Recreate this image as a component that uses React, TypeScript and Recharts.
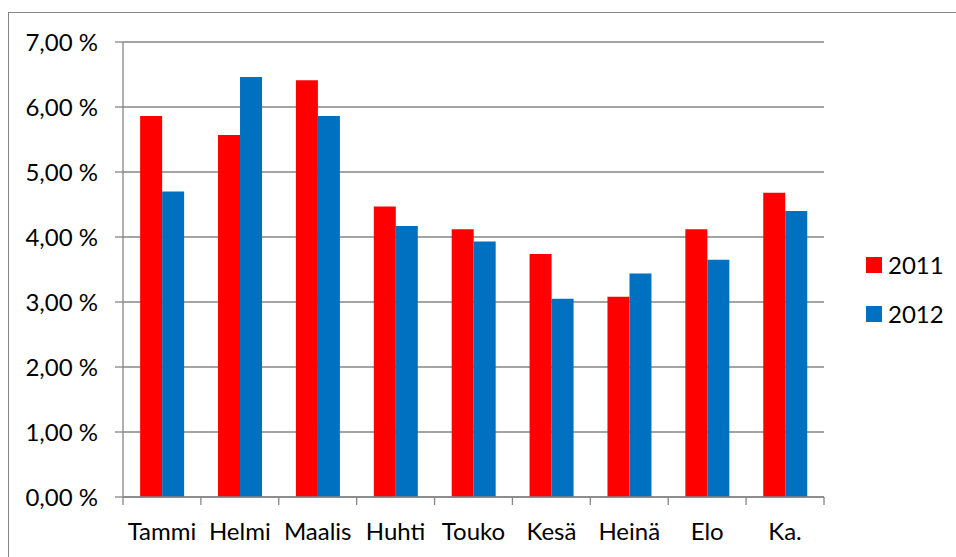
import React from "react"
import { BarChart, Bar, XAxis, YAxis, CartesianGrid } from "recharts"

const months = ["Tammi", "Helmi", "Maalis", "Huhti", "Touko", "Kesä", "Heinä", "Elo", "Ka."]
const values2011 = [5.86, 5.57, 6.41, 4.47, 4.12, 3.74, 3.08, 4.12, 4.68]
const values2012 = [4.7, 6.46, 5.86, 4.17, 3.93, 3.05, 3.44, 3.65, 4.4]
const yTicks = [0, 1, 2, 3, 4, 5, 6, 7]

const series = [
  { key: "2011", color: "#ff0000" },
  { key: "2012", color: "#0070c0" },
]

const data = months.map((m, i) => ({ name: m, "2011": values2011[i], "2012": values2012[i] }))

const FONT = "Lato, 'Open Sans', sans-serif"
const FS = 24
const GRID = "#868686"
const PLOT_LEFT = 123
const PLOT_RIGHT = 824
const band = (PLOT_RIGHT - PLOT_LEFT) / months.length

const fmt = (v: number) => `${v.toFixed(2).replace(".", ",")} %`

function MonthTick(props: any) {
  const { x, y, payload, index } = props
  const isLast = index === months.length - 1
  return (
    <g>
      <line x1={x - band / 2} x2={x - band / 2} y1={y - 8} y2={y} stroke={GRID} strokeWidth={1.3} />
      {isLast && <line x1={x + band / 2} x2={x + band / 2} y1={y - 8} y2={y} stroke={GRID} strokeWidth={1.3} />}
      <text x={x} y={y + 35} textAnchor="middle" fontSize={FS} fontFamily={FONT} fill="#000">
        {payload.value}
      </text>
    </g>
  )
}

export default function App() {
  return (
    <div style={{ position: "absolute", left: 0, top: 0, width: 956, height: 557, background: "#fff", overflow: "hidden" }}>
      <div
        style={{
          position: "absolute",
          left: 8,
          top: 12,
          width: 1000,
          height: 600,
          borderLeft: `1.5px solid ${GRID}`,
          borderTop: `1.5px solid ${GRID}`,
        }}
      />
      <BarChart
        width={956}
        height={557}
        data={data}
        margin={{ top: 42, right: 956 - PLOT_RIGHT, left: 0, bottom: 0 }}
        barCategoryGap="22%"
        barGap={0}
        style={{ position: "absolute", left: 0, top: 0 }}
      >
        <CartesianGrid vertical={false} stroke={GRID} strokeWidth={1.3} />
        <XAxis
          dataKey="name"
          height={60}
          tickLine={false}
          axisLine={{ stroke: GRID, strokeWidth: 1.3 }}
          tick={<MonthTick />}
          interval={0}
        />
        <YAxis
          width={PLOT_LEFT}
          domain={[0, 7]}
          ticks={yTicks}
          tickFormatter={fmt}
          tickSize={8}
          tickMargin={17}
          axisLine={{ stroke: GRID, strokeWidth: 1.3 }}
          tickLine={{ stroke: GRID, strokeWidth: 1.3 }}
          tick={{ fontSize: FS, fontFamily: FONT, fill: "#000" }}
        />
        {series.map((s) => (
          <Bar key={s.key} dataKey={s.key} fill={s.color} isAnimationActive={false} />
        ))}
      </BarChart>
      <div style={{ position: "absolute", left: 866, top: 240, fontFamily: FONT, fontSize: FS, color: "#000" }}>
        {series.map((s) => (
          <div key={s.key} style={{ display: "flex", alignItems: "center", height: 49 }}>
            <span style={{ width: 16, height: 16, background: s.color, display: "inline-block", marginRight: 6 }} />
            <span>{s.key}</span>
          </div>
        ))}
      </div>
    </div>
  )
}
